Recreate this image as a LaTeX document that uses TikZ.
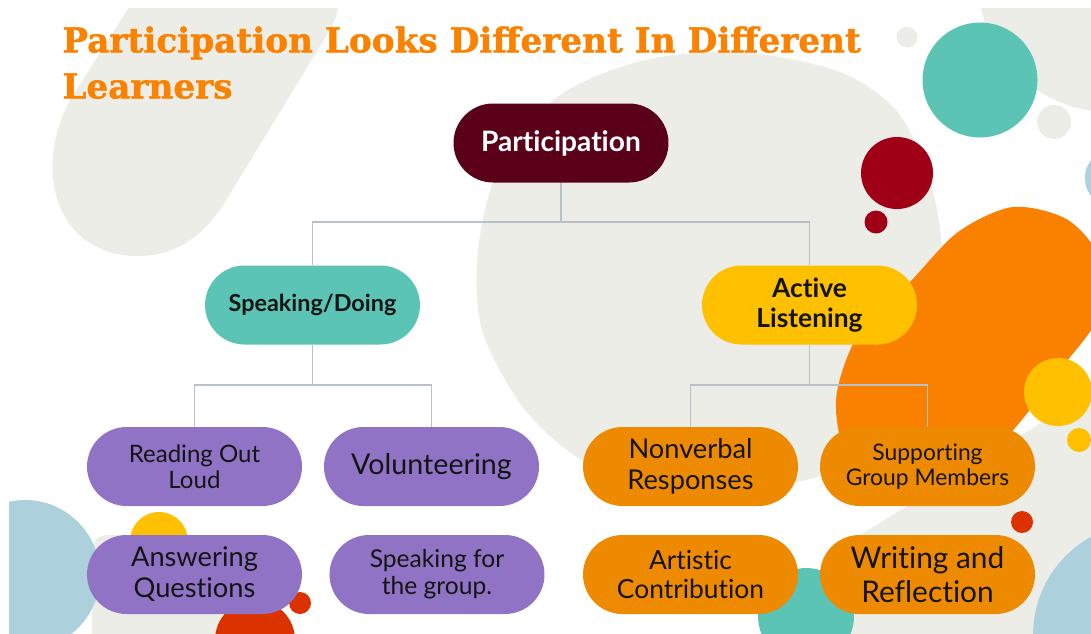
\documentclass[tikz,border=0pt]{standalone}
\usepackage{fontspec}
\setmainfont{Lato}[Ligatures=NoCommon]
\newfontfamily\titlefont{DejaVu Serif}[BoldFeatures={FakeBold=1.2}]
\usepackage{xcolor}
\definecolor{greyBlob}{RGB}{237,237,232}
\definecolor{tealBlob}{RGB}{91,196,180}
\definecolor{maroonBox}{RGB}{90,0,25}
\definecolor{yellowBox}{RGB}{255,192,0}
\definecolor{purpleBox}{RGB}{145,115,198}
\definecolor{orangeBox}{RGB}{238,138,0}
\definecolor{orangeBlob}{RGB}{250,128,0}
\definecolor{redBlob}{RGB}{160,0,22}
\definecolor{redDot}{RGB}{220,50,0}
\definecolor{blueBlob}{RGB}{172,209,220}
\definecolor{titleOrange}{RGB}{250,130,0}
\definecolor{linkGrey}{RGB}{185,192,200}
\definecolor{inkBlack}{RGB}{20,20,20}
\usepackage{tikz}
\usetikzlibrary{calc}

\begin{document}
\begin{tikzpicture}[x=0.02cm, y=-0.02cm,
  pill/.style={rectangle, rounded corners=0.79cm, minimum width=4.3cm,
               minimum height=1.58cm, inner sep=0pt, align=center, text=inkBlack},
  link/.style={draw=linkGrey, line width=1.1pt}]
  \useasboundingbox (0,0) rectangle (1091,633);
  % Fondo
  \begin{scope}
    \clip (9,8) rectangle (1091,633);
    \fill[greyBlob] (140,-10) -- (70,100) .. controls (30,175) and (60,258) .. (140,256)
      .. controls (180,255) and (205,232) .. (222,207) -- (330,30)
      .. controls (340,12) and (340,0) .. (335,-10) -- cycle;
    \fill[greyBlob] plot[smooth cycle] coordinates {(740,52) (840,72) (900,115) (935,200)
      (943,300) (915,400) (840,468) (760,487) (680,485) (590,465) (525,410) (482,330)
      (478,250) (500,165) (560,95) (645,60)};
    \fill[greyBlob] (1110,-20) circle (132);
    \fill[greyBlob] (907,37) circle (10.5);
    \fill[greyBlob] (1054,122) circle (17);
    \fill[greyBlob] (790,650) .. controls (800,590) and (820,560) .. (857,537)
      -- (1110,380) -- (1110,650) -- cycle;
    \fill[greyBlob, rounded corners=0.3cm] (92,535) rectangle (260,650);
    \fill[tealBlob] (980,80) circle (57.5);
    \fill[blueBlob] (1115,178) circle (30);
    \fill[redBlob] (897,173) circle (36);
    \fill[redBlob] (876,222) circle (11.5);
    \fill[orangeBlob] plot[smooth cycle] coordinates {(1013,207) (1068,220) (1102,262)
      (1098,318) (1058,372) (1015,428) (965,478) (905,492) (850,462) (836,400)
      (858,335) (910,282) (958,232)};
    \fill[yellowBox] (1058,392) circle (34);
    \fill[yellowBox] (1079,440) circle (12);
    \fill[blueBlob] (25,575) circle (75);
    \fill[yellowBox] (159,541) circle (29);
    \fill[redDot] (255,640) circle (40);
    \fill[redDot] (300,603) circle (11);
    \fill[redDot] (1022,522) circle (11);
    \fill[tealBlob] (806,616) circle (48);
    \fill[blueBlob] (1145,635) circle (112);
  \end{scope}
  % Titulo
  \node[anchor=north west, inner sep=0pt, align=left, text=titleOrange,
    font=\titlefont\bfseries\fontsize{19.5}{26.2}\selectfont] (title) at (62,26)
    {Participation Looks Different In Different\\Learners};
  % Nivel 0
  \node[pill, fill=maroonBox, text=white, font=\bfseries\fontsize{16}{18}\selectfont] (part) at (561,143) {Participation};
  % Nivel 1
  \node[pill, fill=tealBlob, font=\bfseries\fontsize{13.3}{15}\selectfont] (speak) at (312.5,305) {Speaking/Doing};
  \node[pill, fill=yellowBox, font=\bfseries\fontsize{15}{17.5}\selectfont] (active) at (809.5,305) {Active\\Listening};
  % Nivel 2 (Speaking/Doing)
  \node[pill, fill=purpleBox, font=\fontsize{13.7}{15}\selectfont] (read) at (194.5,466.5) {Reading Out\\Loud};
  \node[pill, fill=purpleBox, font=\fontsize{16.3}{18}\selectfont] (volun) at (431.5,466.5) {Volunteering};
  \node[pill, fill=purpleBox, font=\fontsize{15.5}{17.6}\selectfont] (answer) at (194.5,574.5) {Answering\\Questions};
  \node[pill, fill=purpleBox, font=\fontsize{14}{15.2}\selectfont] (group) at (437,574.5) {Speaking for\\the group.};
  % Nivel 2 (Active Listening)
  \node[pill, fill=orangeBox, font=\fontsize{15.5}{17.5}\selectfont] (nonverb) at (690.5,466.5) {Nonverbal\\Responses};
  \node[pill, fill=orangeBox, font=\fontsize{13}{14.2}\selectfont] (support) at (927.5,466.5) {Supporting\\Group Members};
  \node[pill, fill=orangeBox, font=\fontsize{15}{17}\selectfont] (artistic) at (690.5,574.5) {Artistic\\Contribution};
  \node[pill, fill=orangeBox, font=\fontsize{17}{19.2}\selectfont] (writing) at (927.5,574.5) {Writing and\\Reflection};
  % Conectores
  \draw[link] (part.south) -- ++(0,39.5) -| (speak.north);
  \draw[link] (part.south) -- ++(0,39.5) -| (active.north);
  \draw[link] (speak.south) -- ++(0,40) -| (read.north);
  \draw[link] (speak.south) -- ++(0,40) -| (volun.north);
  \draw[link] (active.south) -- ++(0,40) -| (nonverb.north);
  \draw[link] (active.south) -- ++(0,40) -| (support.north);
\end{tikzpicture}
\end{document}
